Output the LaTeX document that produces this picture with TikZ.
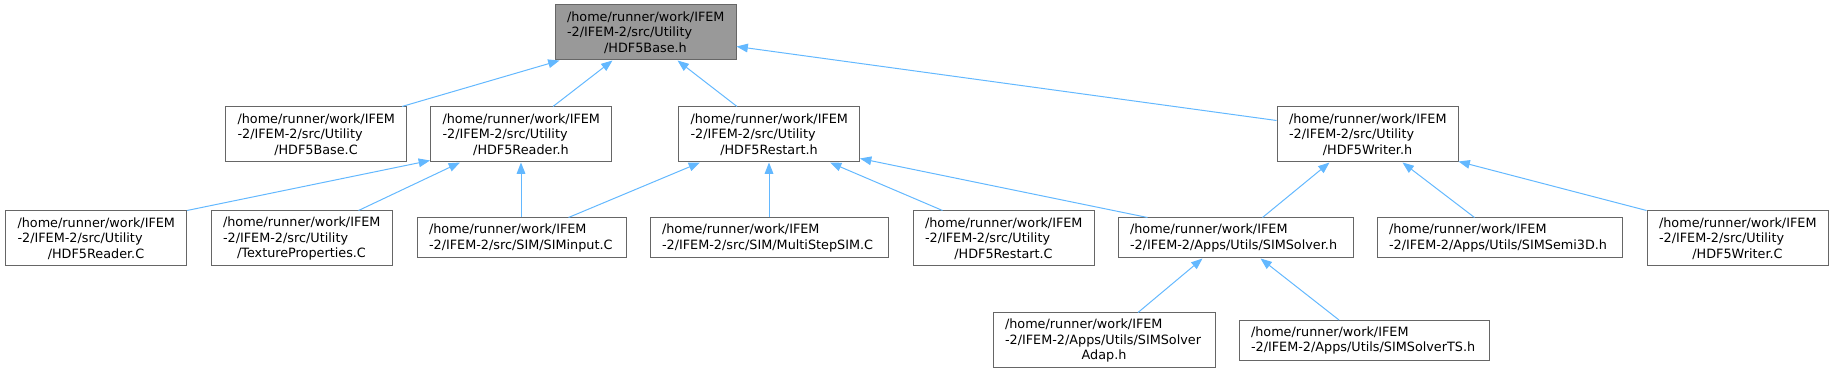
\documentclass[tikz,border=0pt]{standalone}
\usepackage{fontspec}
\setmainfont{DejaVu Sans}
\definecolor{EdgeBlue}{RGB}{99,184,255}
\definecolor{FrameGray}{RGB}{102,102,102}
\definecolor{RootGray}{RGB}{153,153,153}
\usetikzlibrary{arrows.meta,calc}
\hyphenpenalty=10000
\exhyphenpenalty=10000
\newcommand{\lastline}[1]{\makebox[\linewidth]{#1}}

\begin{document}
\begin{tikzpicture}[
  x=0.75pt,y=-0.75pt,
  file/.style={draw=FrameGray,fill=white,line width=0.75pt,align=left,
    text width=117.75pt,inner xsep=9pt,inner ysep=0pt,minimum height=41.25pt,
    font=\fontsize{9.6}{11.5}\selectfont},
  short/.style={minimum height=30pt},
  root/.style={file,fill=RootGray},
  dep/.style={-{Triangle[length=8.5pt,width=6.5pt]},EdgeBlue,line width=0.75pt}
]
\useasboundingbox (0,0) rectangle (1833,373);
\node[root] (base) at (645.5,32.5) {/home/runner/work/IFEM\\-2/IFEM-2/src/Utility\\\lastline{/HDF5Base.h}};
\node[file] (basec) at (316,134.5) {/home/runner/work/IFEM\\-2/IFEM-2/src/Utility\\\lastline{/HDF5Base.C}};
\node[file] (readerh) at (521,134.5) {/home/runner/work/IFEM\\-2/IFEM-2/src/Utility\\\lastline{/HDF5Reader.h}};
\node[file] (restarth) at (769,134.5) {/home/runner/work/IFEM\\-2/IFEM-2/src/Utility\\\lastline{/HDF5Restart.h}};
\node[file] (writerh) at (1367.5,134.5) {/home/runner/work/IFEM\\-2/IFEM-2/src/Utility\\\lastline{/HDF5Writer.h}};
\node[file] (readerc) at (96,238.5) {/home/runner/work/IFEM\\-2/IFEM-2/src/Utility\\\lastline{/HDF5Reader.C}};
\node[file] (texture) at (301.5,238.5) {/home/runner/work/IFEM\\-2/IFEM-2/src/Utility\\\lastline{/TextureProperties.C}};
\node[file,short,text width=138.75pt] (siminput) at (521.5,238) {/home/runner/work/IFEM\\-2/IFEM-2/src/SIM/SIMinput.C};
\node[file,short,text width=160.5pt] (multistep) at (769,238) {/home/runner/work/IFEM\\-2/IFEM-2/src/SIM/MultiStepSIM.C};
\node[file] (restartc) at (1003.5,238.5) {/home/runner/work/IFEM\\-2/IFEM-2/src/Utility\\\lastline{/HDF5Restart.C}};
\node[file,short,text width=158.25pt] (simsolver) at (1235.5,238) {/home/runner/work/IFEM\\-2/IFEM-2/Apps/Utils/SIMSolver.h};
\node[file,short,text width=165.75pt] (semi3d) at (1499.5,238) {/home/runner/work/IFEM\\-2/IFEM-2/Apps/Utils/SIMSemi3D.h};
\node[file] (writerc) at (1737.5,238.5) {/home/runner/work/IFEM\\-2/IFEM-2/src/Utility\\\lastline{/HDF5Writer.C}};
\node[file,text width=148.5pt] (adap) at (1104,340.5) {/home/runner/work/IFEM\\-2/IFEM-2/Apps/Utils/SIMSolver\\\lastline{Adap.h}};
\node[file,short,text width=169.5pt] (ts) at (1364,340.5) {/home/runner/work/IFEM\\-2/IFEM-2/Apps/Utils/SIMSolverTS.h};

\draw[dep] ($(basec.north east)+(-5,0)$) -- ($(base.south west)+(5,0)$);
\draw[dep] ($(readerh.north)+(32,0)$) -- ($(base.south)+(-33,0)$);
\draw[dep] ($(restarth.north)+(-32,0)$) -- ($(base.south)+(32,0)$);
\draw[dep] ($(writerh.north west)+(0,14)$) -- ($(base.north east)+(0,42)$);
\draw[dep] (readerc.north east) -- ($(readerh.south west)+(0,-2)$);
\draw[dep] ($(texture.north east)+(-34,0)$) -- ($(readerh.south west)+(30,0)$);
\draw[dep] (readerh.south |- siminput.north) -- (readerh.south);
\draw[dep] ($(siminput.north)+(47,0)$) -- ($(restarth.south west)+(22,0)$);
\draw[dep] (multistep.north) -- (restarth.south);
\draw[dep] ($(restartc.north west)+(30,0)$) -- ($(restarth.south east)+(-30,0)$);
\draw[dep] ($(simsolver.north west)+(30,0)$) -- ($(restarth.south east)+(0,-4)$);
\draw[dep] ($(simsolver.north east)+(-91,0)$) -- ($(writerh.south west)+(53,0)$);
\draw[dep] ($(semi3d.north west)+(98,0)$) -- ($(writerh.south west)+(126,0)$);
\draw[dep] (writerc.north west) -- ($(writerh.south east)+(0,-1)$);
\draw[dep] ($(adap.north)+(34,0)$) -- ($(simsolver.south)+(-33,0)$);
\draw[dep] ($(ts.north)+(-25,0)$) -- ($(simsolver.south)+(25,0)$);
\end{tikzpicture}
\end{document}
